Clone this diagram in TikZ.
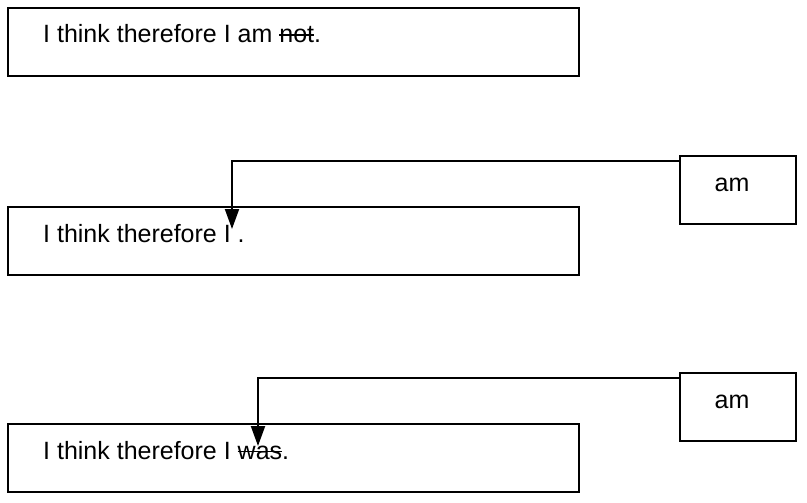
\documentclass[tikz,border=0pt]{standalone}
\usepackage{fontspec}
\setmainfont{Liberation Sans}
\usetikzlibrary{arrows.meta,calc}
\newcommand\mystrike[1]{\setbox0\hbox{#1}\rlap{\rule[0.27em]{\wd0}{0.07em}}\box0}
\begin{document}
\begin{tikzpicture}[x=1pt,y=-1pt,
  sentbox/.style={draw,line width=2pt,minimum width=571pt,minimum height=68pt,anchor=north west,inner sep=0pt},
  wordbox/.style={draw,line width=2pt,minimum width=116pt,minimum height=68pt,anchor=north west,inner sep=0pt},
  sent/.style={anchor=base west,inner sep=0pt,font=\fontsize{25}{29}\selectfont},
  word/.style={anchor=base,inner sep=0pt,font=\fontsize{25}{29}\selectfont},
  conn/.style={line width=2pt,-{Triangle[length=20pt,width=14pt]}}]
\useasboundingbox (0,0) rectangle (807,503);
\node[sentbox] (b1) at (7,7) {};
\node[sentbox] (b2) at (7,206) {};
\node[sentbox] (b3) at (7,423) {};
\node[wordbox] (w1) at (679,155) {};
\node[wordbox] (w2) at (679,372) {};
\node[sent] (t1) at (43,43) {I think therefore I am \mystrike{not}.};
\node[sent] (t2) at (43,242) {I think therefore I .};
\node[sent] (t3) at (43,459) {I think therefore I \mystrike{was}.};
\node[word] (a1) at (732,191) {am};
\node[word] (a2) at (732,408) {am};
\coordinate (tip1) at (232,229);
\coordinate (tip2) at (258,446);
\draw[conn] ($(w1.north west)+(0,6)$) -| (tip1);
\draw[conn] ($(w2.north west)+(0,6)$) -| (tip2);
\end{tikzpicture}
\end{document}
